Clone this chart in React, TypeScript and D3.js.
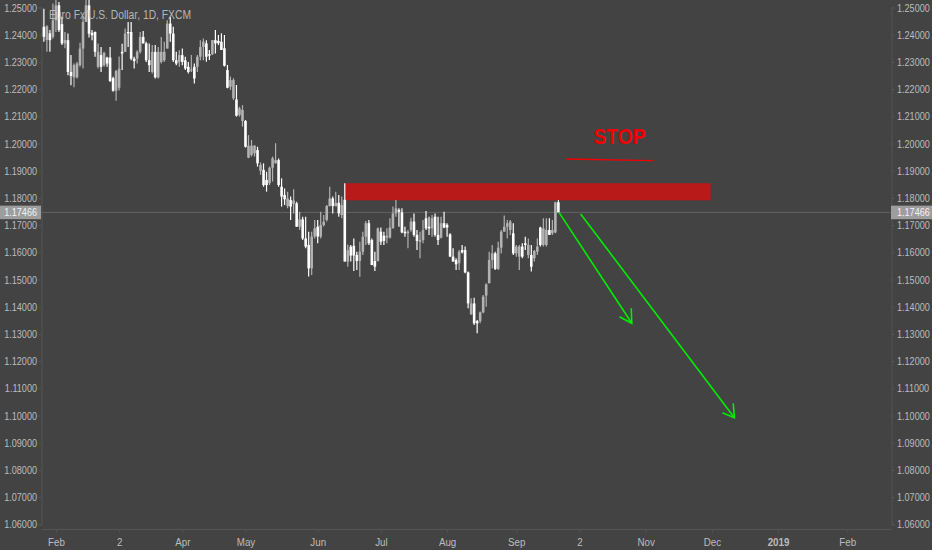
import { useEffect, useRef } from "react";
import * as d3 from "d3";

const opens = [
  1.2429, 1.238, 1.2405, 1.2392, 1.2453, 1.2508, 1.2439, 1.2368, 1.238, 1.2263,
  1.2243, 1.2243, 1.2288, 1.2349, 1.2447, 1.2508, 1.2407, 1.241, 1.2282, 1.2325,
  1.2288, 1.2316, 1.2316, 1.224, 1.2194, 1.2205, 1.2337, 1.2337, 1.241, 1.241,
  1.2312, 1.2312, 1.2337, 1.2392, 1.2368, 1.2306, 1.2263, 1.2337, 1.2243, 1.23,
  1.2306, 1.2349, 1.2441, 1.2404, 1.2306, 1.23, 1.2325, 1.2306, 1.2282, 1.227,
  1.2282, 1.2282, 1.2319, 1.2355, 1.2368, 1.2328, 1.2328, 1.238, 1.2377, 1.2374,
  1.235, 1.227, 1.2209, 1.2166, 1.2162, 1.2105, 1.2083, 1.2083, 1.1948, 1.1958,
  1.1964, 1.1976, 1.19, 1.1903, 1.1866, 1.1854, 1.1911, 1.1927, 1.1939, 1.1841,
  1.1811, 1.177, 1.1792, 1.1778, 1.178, 1.1694, 1.1721, 1.1651, 1.1627, 1.1541,
  1.1658, 1.1694, 1.1658, 1.17, 1.1719, 1.177, 1.1798, 1.177, 1.1782, 1.1737,
  1.1793, 1.1566, 1.1621, 1.1624, 1.159, 1.1568, 1.1602, 1.1657, 1.1707, 1.1645,
  1.1568, 1.1568, 1.1676, 1.1661, 1.1654, 1.1654, 1.1688, 1.1743, 1.1756, 1.1747,
  1.1676, 1.167, 1.1682, 1.1713, 1.1664, 1.1639, 1.1645, 1.1725, 1.1694, 1.1688,
  1.1731, 1.1664, 1.1654, 1.1707, 1.1701, 1.1666, 1.1584, 1.1572, 1.156, 1.1608,
  1.1608, 1.1526, 1.1372, 1.1412, 1.1347, 1.1347, 1.1379, 1.1441, 1.1486, 1.1572,
  1.1596, 1.1539, 1.1617, 1.1676, 1.1694, 1.1682, 1.167, 1.1596, 1.1584, 1.1621,
  1.1633, 1.159, 1.159, 1.1578, 1.1602, 1.1691, 1.1627, 1.1627, 1.1682, 1.167, 1.1673, 1.1784,
];

const closes = [
  1.2392, 1.2431, 1.238, 1.2453, 1.2508, 1.2417, 1.2368, 1.238, 1.2263, 1.2248,
  1.2288, 1.2294, 1.2349, 1.2447, 1.2508, 1.2404, 1.2398, 1.2337, 1.2337, 1.2282,
  1.2333, 1.2294, 1.223, 1.2194, 1.2267, 1.2275, 1.2331, 1.2404, 1.2405, 1.2312,
  1.2303, 1.2337, 1.2392, 1.2368, 1.2306, 1.2288, 1.2337, 1.2243, 1.2337, 1.2337,
  1.2337, 1.2441, 1.2404, 1.2306, 1.2294, 1.2325, 1.23, 1.2276, 1.2263, 1.2272,
  1.2239, 1.2319, 1.2355, 1.2374, 1.2319, 1.2323, 1.238, 1.2368, 1.2369, 1.2344,
  1.2286, 1.2205, 1.2233, 1.2233, 1.2102, 1.2129, 1.2123, 1.1988, 1.1992, 1.1992,
  1.1992, 1.1927, 1.1921, 1.1847, 1.1847, 1.1911, 1.1946, 1.1939, 1.1847, 1.1805,
  1.1795, 1.1798, 1.1768, 1.179, 1.1694, 1.1721, 1.1651, 1.1621, 1.1541, 1.1658,
  1.1688, 1.1658, 1.17, 1.1712, 1.177, 1.1798, 1.177, 1.1782, 1.1743, 1.1774,
  1.1566, 1.1608, 1.1588, 1.1588, 1.1568, 1.1602, 1.1657, 1.1707, 1.1633, 1.1553,
  1.1547, 1.1688, 1.1639, 1.1642, 1.1661, 1.1691, 1.1743, 1.1762, 1.1749, 1.1673,
  1.167, 1.1676, 1.1713, 1.1664, 1.1642, 1.1645, 1.1682, 1.1688, 1.1688, 1.1725,
  1.1664, 1.1645, 1.1707, 1.1691, 1.1691, 1.1584, 1.1566, 1.1556, 1.1602, 1.16,
  1.1526, 1.1412, 1.1412, 1.1339, 1.1339, 1.1379, 1.1437, 1.1482, 1.1572, 1.1596,
  1.1539, 1.1617, 1.1676, 1.1694, 1.1707, 1.1713, 1.1596, 1.1621, 1.1621, 1.1584,
  1.1627, 1.1627, 1.1547, 1.1605, 1.1621, 1.1627, 1.1688, 1.1682, 1.1664, 1.1682, 1.1784, 1.17466,
];

const highs = [
  1.2495, 1.2435, 1.2417, 1.2515, 1.253, 1.252, 1.2466, 1.241, 1.2404, 1.2325,
  1.2294, 1.23, 1.237, 1.2466, 1.253, 1.254, 1.2417, 1.2412, 1.2368, 1.2355,
  1.2337, 1.2319, 1.2355, 1.2245, 1.227, 1.232, 1.2367, 1.2423, 1.2447, 1.2447,
  1.2319, 1.2343, 1.241, 1.2414, 1.2374, 1.2368, 1.2362, 1.2362, 1.2355, 1.2392,
  1.2374, 1.2453, 1.2466, 1.2429, 1.2337, 1.2343, 1.2349, 1.2319, 1.23, 1.2325,
  1.2294, 1.2325, 1.238, 1.2386, 1.238, 1.2344, 1.238, 1.2417, 1.2399, 1.2405,
  1.2399, 1.2289, 1.2246, 1.224, 1.2215, 1.2135, 1.2141, 1.2086, 1.2031, 1.2013,
  1.1994, 1.1988, 1.193, 1.1927, 1.1896, 1.1915, 1.1952, 1.2001, 1.1945, 1.1872,
  1.1835, 1.1823, 1.1805, 1.1832, 1.1786, 1.1749, 1.1731, 1.1731, 1.1676, 1.1676,
  1.1719, 1.1719, 1.1749, 1.1737, 1.1774, 1.1841, 1.1805, 1.1823, 1.1811, 1.1805,
  1.1854, 1.1629, 1.1627, 1.1651, 1.1602, 1.1639, 1.1676, 1.1715, 1.1719, 1.1651,
  1.1602, 1.1691, 1.1691, 1.1676, 1.1688, 1.1725, 1.1768, 1.1792, 1.1762, 1.1762,
  1.1694, 1.1682, 1.1727, 1.1743, 1.1682, 1.1676, 1.1719, 1.1752, 1.1731, 1.1737,
  1.1743, 1.1731, 1.1731, 1.1749, 1.1707, 1.167, 1.1615, 1.1578, 1.1608, 1.1627,
  1.1621, 1.1529, 1.1431, 1.1433, 1.1351, 1.1382, 1.1443, 1.1486, 1.1602, 1.1627,
  1.1602, 1.1639, 1.1682, 1.1735, 1.1719, 1.1719, 1.1707, 1.1627, 1.1627, 1.1633,
  1.1657, 1.1651, 1.1627, 1.1608, 1.1651, 1.1694, 1.1725, 1.1725, 1.1725, 1.1719, 1.1786, 1.1792,
];

const lows = [
  1.2374, 1.2337, 1.2337, 1.2385, 1.241, 1.241, 1.2362, 1.235, 1.2251, 1.2214,
  1.2207, 1.2239, 1.2282, 1.2276, 1.2447, 1.239, 1.238, 1.2319, 1.2276, 1.2263,
  1.2282, 1.2282, 1.2226, 1.219, 1.2157, 1.2195, 1.227, 1.2337, 1.2355, 1.2306,
  1.2276, 1.2294, 1.2331, 1.2368, 1.23, 1.2263, 1.2257, 1.2239, 1.2239, 1.2294,
  1.23, 1.2349, 1.2374, 1.23, 1.2288, 1.2282, 1.2288, 1.227, 1.2257, 1.2263,
  1.2221, 1.2263, 1.2306, 1.2306, 1.2301, 1.2307, 1.2325, 1.2331, 1.2362, 1.2344,
  1.2283, 1.2203, 1.2197, 1.216, 1.2099, 1.2099, 1.2062, 1.1985, 1.1946, 1.1952,
  1.1952, 1.1915, 1.1885, 1.1841, 1.1823, 1.1847, 1.186, 1.1927, 1.1841, 1.1768,
  1.1774, 1.1762, 1.1719, 1.1743, 1.1694, 1.1682, 1.1645, 1.1615, 1.1511, 1.1517,
  1.1651, 1.1633, 1.1651, 1.1695, 1.1713, 1.1768, 1.1743, 1.1768, 1.1731, 1.1725,
  1.1566, 1.1547, 1.1566, 1.1531, 1.1535, 1.151, 1.159, 1.1627, 1.1627, 1.1553,
  1.1531, 1.1566, 1.1627, 1.1627, 1.1633, 1.1651, 1.1688, 1.1731, 1.1694, 1.167,
  1.1657, 1.1615, 1.1676, 1.1657, 1.1608, 1.1578, 1.1633, 1.1682, 1.1664, 1.1657,
  1.1657, 1.1627, 1.1651, 1.1688, 1.1657, 1.1584, 1.1566, 1.1535, 1.1535, 1.1596,
  1.1523, 1.1394, 1.137, 1.1333, 1.1302, 1.1339, 1.1376, 1.14, 1.1486, 1.1541,
  1.1535, 1.1535, 1.1596, 1.1676, 1.1651, 1.1664, 1.159, 1.1584, 1.1535, 1.1578,
  1.1608, 1.1578, 1.1529, 1.1566, 1.159, 1.1621, 1.1621, 1.1621, 1.1664, 1.1664, 1.167, 1.1747,
];

const lastPrice = 1.17466;
const priceTicks = [
  1.25, 1.24, 1.23, 1.22, 1.21, 1.2, 1.19, 1.18, 1.17, 1.16,
  1.15, 1.14, 1.13, 1.12, 1.11, 1.1, 1.09, 1.08, 1.07, 1.06,
];
const timeBars = [4, 25, 46, 67, 91, 112, 134, 157, 178, 200, 222, 244, 267];
const timeLabels = ["Feb", "2", "Apr", "May", "Jun", "Jul", "Aug", "Sep", "2", "Nov", "Dec", "2019", "Feb"];

// drawings, as [bar, price]
const stopZone = [[99.9, 1.1854], [221.6, 1.1791]];
const stopLine = [[173.6, 1.1943], [202.6, 1.1937]];
const stopLabel = [191.3, 1.1998];
const shortArrow = [[171.2, 1.17466], [195.4, 1.1339]];
const shortWings = [[191.3, 1.1363], [195.4, 1.1339], [195.2, 1.1394]];
const longArrow = [[178.4, 1.1741], [229.5, 1.0992]];
const longWings = [[225.5, 1.101], [229.5, 1.0992], [229.1, 1.1045]];

const width = 932;
const height = 550;
const font = "'Liberation Sans', Arial, sans-serif";

export default function App() {
  const ref = useRef<SVGSVGElement | null>(null);

  useEffect(() => {
    const svg = d3.select(ref.current);
    svg.selectAll("*").remove(); // clear previous renders

    const x = d3.scaleLinear().domain([0, 171]).range([43.9, 558.4]);
    const y = d3.scaleLinear().domain([1.25, 1.06]).range([7.5, 524.3]);
    const left = 41.5;
    const right = 891.5;
    const bottom = 529.5;
    const fmt = d3.format(".5f");

    svg.append("rect").attr("width", width).attr("height", height).attr("fill", "#434343");

    const axisColor = "#555555";
    const labelColor = "#bcbcbc";

    const styleAxis = (g: any) => {
      g.selectAll(".domain").attr("stroke", axisColor);
      g.selectAll(".tick line").attr("stroke", axisColor);
      g.selectAll(".tick text")
        .attr("fill", labelColor)
        .attr("font-family", font)
        .attr("font-size", 11.5);
    };

    // the labels in the picture are narrower than the font, so squeeze them sideways
    const yLeft = svg.append("g").attr("transform", `translate(${left},0)`)
      .call(d3.axisLeft(y).tickValues(priceTicks).tickFormat(fmt).tickSize(3));
    styleAxis(yLeft);
    yLeft.selectAll(".tick text").attr("x", 0).attr("transform", "translate(-4.5,0) scale(0.79,1)");

    const yRight = svg.append("g").attr("transform", `translate(${right},0)`)
      .call(d3.axisRight(y).tickValues(priceTicks).tickFormat(fmt).tickSize(3));
    styleAxis(yRight);
    yRight.selectAll(".tick text").attr("x", 0).attr("transform", "translate(5.5,0) scale(0.79,1)");

    const xAxis = svg.append("g").attr("transform", `translate(0,${bottom})`)
      .call(
        d3.axisBottom(x)
          .tickValues(timeBars)
          .tickFormat((_d: any, i: number) => timeLabels[i])
          .tickSize(3)
          .tickPadding(5)
      );
    styleAxis(xAxis);
    xAxis.select(".domain").attr("d", `M${left},0H${right}`);
    xAxis.selectAll(".tick text")
      .attr("transform", "scale(0.85,1)")
      .attr("font-weight", (_d: any, i: number) => (timeLabels[i] === "2019" ? "bold" : "normal"));

    // last price line
    svg.append("line")
      .attr("x1", left).attr("x2", right)
      .attr("y1", y(lastPrice)).attr("y2", y(lastPrice))
      .attr("stroke", "#626262");

    // red zone
    svg.append("rect")
      .attr("x", x(stopZone[0][0]))
      .attr("y", y(stopZone[0][1]))
      .attr("width", x(stopZone[1][0]) - x(stopZone[0][0]))
      .attr("height", y(stopZone[1][1]) - y(stopZone[0][1]))
      .attr("fill", "#b71a18");

    // candles
    const colorOf = (i: number) => (closes[i] >= opens[i] ? "#b2b2b2" : "#ffffff");
    const bars = svg.append("g");
    bars.selectAll("line")
      .data(opens)
      .join("line")
      .attr("x1", (_d, i) => x(i))
      .attr("x2", (_d, i) => x(i))
      .attr("y1", (_d, i) => y(highs[i]))
      .attr("y2", (_d, i) => y(lows[i]))
      .attr("stroke", (_d, i) => colorOf(i))
      .attr("stroke-width", 1.2);
    bars.selectAll("rect")
      .data(opens)
      .join("rect")
      .attr("x", (_d, i) => x(i) - 1.3)
      .attr("y", (_d, i) => y(Math.max(opens[i], closes[i])))
      .attr("width", 2.6)
      .attr("height", (_d, i) => Math.max(1, Math.abs(y(opens[i]) - y(closes[i]))))
      .attr("fill", (_d, i) => colorOf(i));

    // title, above the candles
    svg.append("text")
      .attr("x", 49).attr("y", 18.5)
      .attr("font-family", font).attr("font-size", 13.5)
      .attr("fill", "#c4c4c4").attr("fill-opacity", 0.9)
      .attr("textLength", 142).attr("lengthAdjust", "spacingAndGlyphs")
      .text("Euro Fx/U.S. Dollar, 1D, FXCM");

    // arrows
    const line = d3.line<number[]>().x((d) => x(d[0])).y((d) => y(d[1]));
    [shortArrow, shortWings, longArrow, longWings].forEach((pts) => {
      svg.append("path")
        .attr("d", line(pts))
        .attr("fill", "none")
        .attr("stroke", "#00ee00")
        .attr("stroke-width", 1.6);
    });

    svg.append("path")
      .attr("d", line(stopLine))
      .attr("fill", "none")
      .attr("stroke", "#f40000")
      .attr("stroke-width", 1.4);

    svg.append("text")
      .attr("x", x(stopLabel[0])).attr("y", y(stopLabel[1]))
      .attr("text-anchor", "middle")
      .attr("font-family", font).attr("font-size", 21.5).attr("font-weight", "bold")
      .attr("fill", "#f40000")
      .attr("textLength", 52).attr("lengthAdjust", "spacingAndGlyphs")
      .text("STOP");

    // last price tags
    [[0, 37], [right - 0.5, 897]].forEach(([bx, tx], k) => {
      svg.append("rect")
        .attr("x", bx).attr("y", y(lastPrice) - 6.8)
        .attr("width", 41).attr("height", 13.6)
        .attr("fill", "#9d9d9d");
      svg.append("text")
        .attr("transform", `translate(${tx},${y(lastPrice) + 4}) scale(0.79,1)`)
        .attr("text-anchor", k === 0 ? "end" : "start")
        .attr("font-family", font).attr("font-size", 11.5)
        .attr("fill", "#f2f2f2")
        .text(fmt(lastPrice));
    });
  }, []);

  return (
    <svg
      ref={ref}
      width={width}
      height={height}
      style={{ position: "absolute", left: 0, top: 0, display: "block" }}
    />
  );
}
